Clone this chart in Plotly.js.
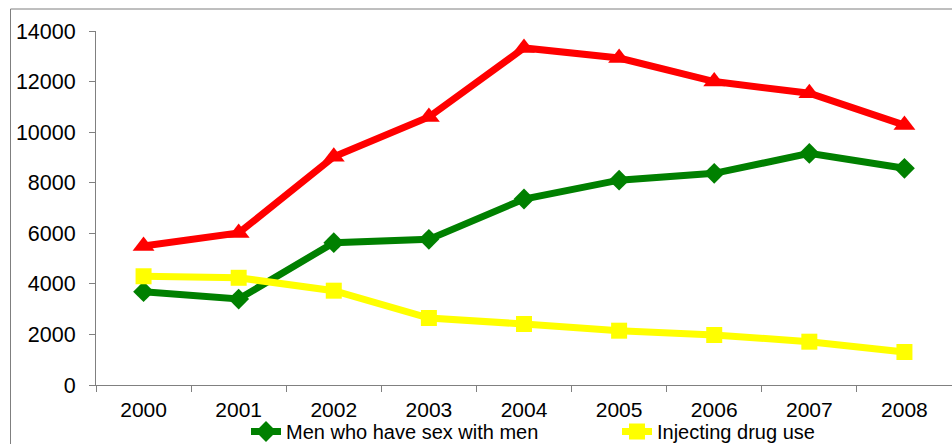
<!DOCTYPE html>
<html>
<head>
<meta charset="utf-8">
<script src="https://cdn.plot.ly/plotly-3.0.1.min.js"></script>
<style>
html,body{margin:0;padding:0;background:#fff;}
#chart{width:952px;height:444px;}
</style>
</head>
<body>
<div id="chart"></div>
<script>
var years = ['2000','2001','2002','2003','2004','2005','2006','2007','2008'];
var heterosexual = [5500, 6010, 9030, 10600, 13330, 12930, 12000, 11540, 10280];
var msm = [3690, 3400, 5630, 5760, 7356, 8100, 8370, 9160, 8570];
var idu = [4300, 4240, 3730, 2650, 2412, 2148, 1977, 1713, 1305];
var yTicks = [0, 2000, 4000, 6000, 8000, 10000, 12000, 14000];

var traces = [
  {
    x: years, y: heterosexual, type: 'scatter', mode: 'lines+markers',
    name: 'Heterosexual', showlegend: false,
    line: {color: '#ff0000', width: 7},
    marker: {symbol: 'triangle-up', size: 19, color: '#ff0000'}
  },
  {
    x: years, y: msm, type: 'scatter', mode: 'lines+markers',
    name: 'Men who have sex with men', legend: 'legend',
    line: {color: '#008000', width: 7},
    marker: {symbol: 'diamond', size: 16, color: '#008000'}
  },
  {
    x: years, y: idu, type: 'scatter', mode: 'lines+markers',
    name: 'Injecting drug use', legend: 'legend2',
    line: {color: '#ffff00', width: 7},
    marker: {symbol: 'square', size: 16, color: '#ffff00'}
  }
];

var W = 856, H = 354, L = 96, T = 31;
function px(x){ return (x - L) / W; }
function py(y){ return (T + H - y) / H; }

var layout = {
  width: 952, height: 444,
  margin: {l: L, r: 0, t: T, b: 444 - T - H, autoexpand: false},
  paper_bgcolor: '#ffffff', plot_bgcolor: '#ffffff',
  font: {family: 'Liberation Sans, Arial, sans-serif', color: '#000000', size: 21},
  xaxis: {
    type: 'category', range: [-0.5, 8.5],
    showgrid: false, zeroline: false,
    showline: true, linecolor: '#808080', linewidth: 1,
    ticks: 'outside', tickson: 'boundaries', ticklen: 6, tickcolor: '#808080',
    tickfont: {size: 21, color: '#000'},
    ticklabelstandoff: 6
  },
  yaxis: {
    range: [0, 14000], tickvals: yTicks, ticktext: yTicks.map(String),
    showgrid: false, zeroline: false,
    showline: true, linecolor: '#808080', linewidth: 1,
    ticks: 'outside', ticklen: 6, tickcolor: '#808080',
    tickfont: {size: 21.5, color: '#000'},
    ticklabelstandoff: 9
  },
  legend: {
    orientation: 'h', x: px(246), xanchor: 'left', y: py(412), yanchor: 'top',
    bgcolor: 'rgba(0,0,0,0)', font: {size: 20}, borderwidth: 0,
    tracegroupgap: 0
  },
  legend2: {
    orientation: 'h', x: px(617), xanchor: 'left', y: py(412), yanchor: 'top',
    bgcolor: 'rgba(0,0,0,0)', font: {size: 20}, borderwidth: 0
  },
  shapes: [
    {type: 'line', xref: 'paper', yref: 'paper', x0: px(10.5), x1: px(10.5), y0: py(9), y1: py(444), line: {color: '#7f7f7f', width: 1}},
    {type: 'line', xref: 'paper', yref: 'paper', x0: px(10.5), x1: px(952), y0: py(9), y1: py(9), line: {color: '#7f7f7f', width: 1}}
  ],
  showlegend: true
};

Plotly.newPlot('chart', traces, layout, {displayModeBar: false, staticPlot: true});
</script>
</body>
</html>
